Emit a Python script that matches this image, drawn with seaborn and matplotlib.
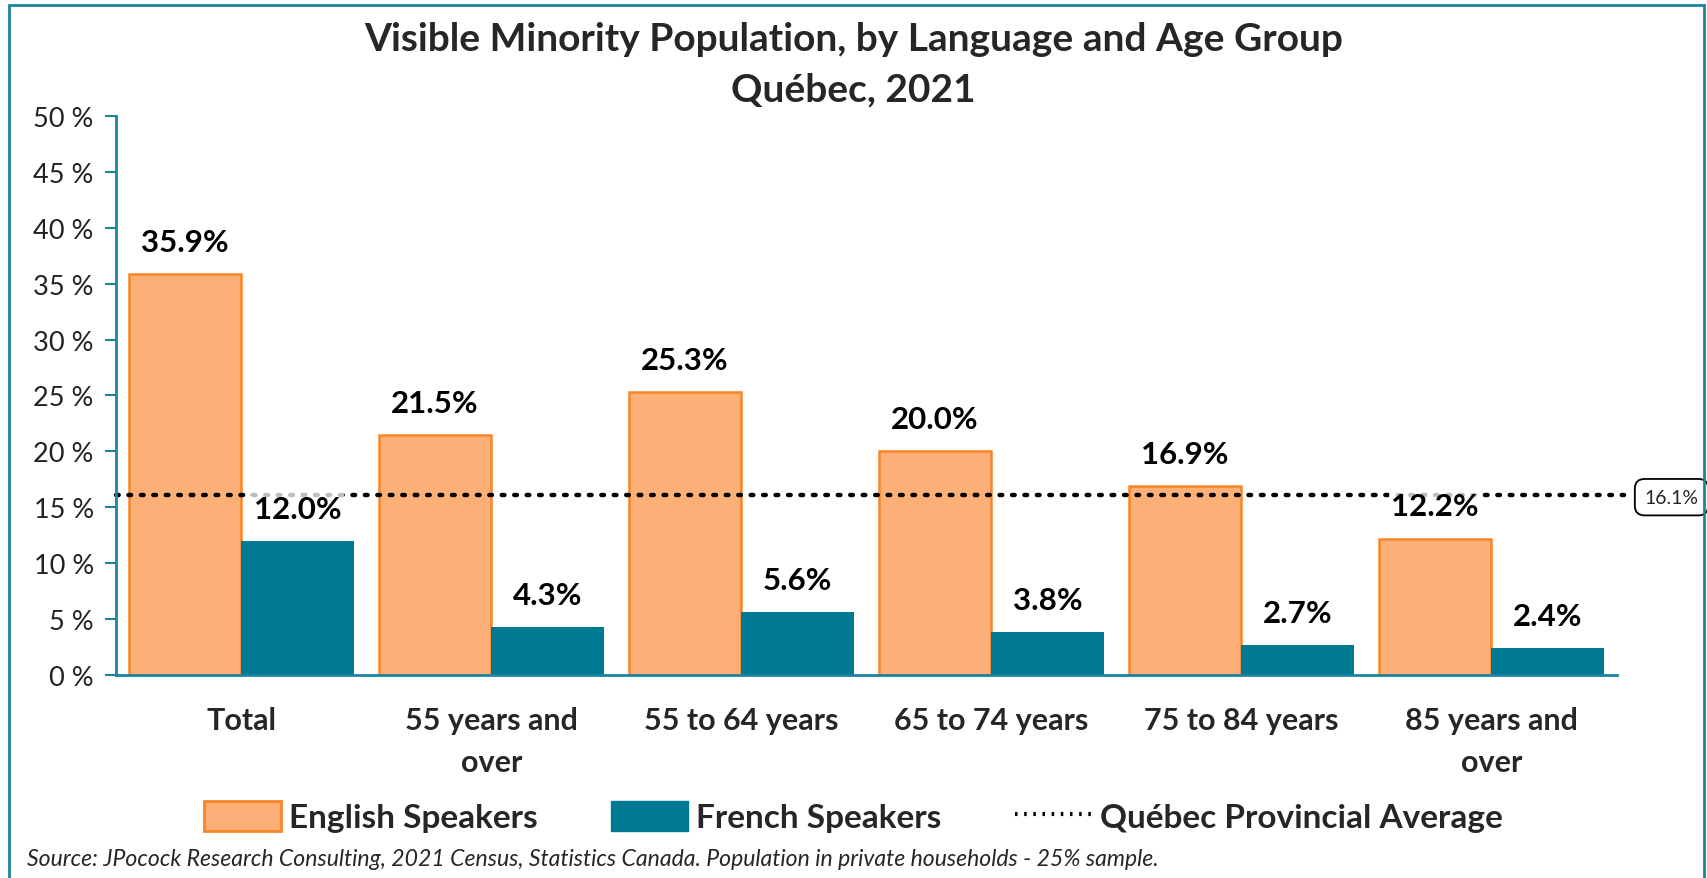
import pandas as pd
import matplotlib.pyplot as plt
import seaborn as sns
from matplotlib.patches import Patch, Rectangle
from matplotlib.lines import Line2D

# data
groups = ["Total", "55 years and\nover", "55 to 64 years", "65 to 74 years",
          "75 to 84 years", "85 years and\nover"]
english = [35.9, 21.5, 25.3, 20.0, 16.9, 12.2]
french = [12.0, 4.3, 5.6, 3.8, 2.7, 2.4]
provincial_avg = 16.1
yticks = [0, 5, 10, 15, 20, 25, 30, 35, 40, 45, 50]

orange = "#FDAF78"
orange_edge = "#FA8428"
teal = "#007A93"
axis_col = "#1C84A0"

df = pd.DataFrame({
    "group": groups * 2,
    "lang": ["English Speakers"] * len(groups) + ["French Speakers"] * len(groups),
    "value": english + french,
})

sns.set_theme(style="white")
plt.rcParams["font.family"] = ["Lato", "DejaVu Sans"]

fig = plt.figure(figsize=(17.07, 8.79), dpi=100)
ax = fig.add_axes([0.068, 0.231, 0.879, 0.636])

sns.barplot(data=df, x="group", y="value", hue="lang",
            palette=[orange, teal], width=0.9, gap=0,
            saturation=1, legend=False, ax=ax)

for bar in ax.containers[0]:
    bar.set_edgecolor(orange_edge)
    bar.set_linewidth(1.8)
for bar in ax.containers[1]:
    bar.set_edgecolor(teal)
    bar.set_linewidth(0)

# provincial average dotted line + value box
ax.plot([-0.5, 5.53], [provincial_avg, provincial_avg], color="black",
        linestyle=(0, (0.6, 2.2)), linewidth=3.2, dash_capstyle="round",
        clip_on=False, zorder=1)
ax.text(5.72, provincial_avg - 0.2, f"{provincial_avg:.1f}%", fontsize=14,
        ha="center", va="center", clip_on=False,
        bbox=dict(boxstyle="round,pad=0.5", fc="white", ec="black", lw=1.3))

for cont in ax.containers:
    labels = ax.bar_label(cont, fmt="%.1f%%", padding=13, fontsize=22.5,
                          fontweight="bold", color="black")
    for t in labels:
        t.set_bbox(dict(facecolor="white", edgecolor="none", alpha=0.75, pad=2))
        t.set_zorder(3)

ax.set_xlim(-0.5, 5.5)
ax.set_ylim(0, 50)
ax.set_yticks(yticks)
ax.set_yticklabels([f"{v} %" for v in yticks], fontsize=19.5, color="#222222")
ax.tick_params(axis="y", direction="out", length=8, width=1.5,
               color=axis_col, left=True, pad=8)
ax.tick_params(axis="x", length=0, pad=22)
for lbl in ax.get_xticklabels():
    lbl.set_fontsize(22)
    lbl.set_fontweight("bold")
    lbl.set_linespacing(1.65)
ax.set_xlabel("")
ax.set_ylabel("")
sns.despine(ax=ax)
ax.spines["left"].set_color(axis_col)
ax.spines["bottom"].set_color(axis_col)
ax.spines["left"].set_linewidth(2)
ax.spines["bottom"].set_linewidth(2)

fig.text(0.5, 0.955, "Visible Minority Population, by Language and Age Group",
         ha="center", va="center", fontsize=28, fontweight="bold")
fig.text(0.5, 0.898, "Québec, 2021", ha="center", va="center",
         fontsize=28, fontweight="bold")

handles = [
    Patch(facecolor=orange, edgecolor=orange_edge, linewidth=2, label="English Speakers"),
    Patch(facecolor=teal, edgecolor=teal, label="French Speakers"),
    Line2D([0], [0], color="black", linestyle=(0, (0.6, 1.6)), linewidth=3,
           label="Québec Provincial Average"),
]
fig.legend(handles=handles, loc="center", bbox_to_anchor=(0.5, 0.07), ncol=3,
           frameon=False, prop={"size": 24, "weight": "bold"},
           handlelength=2.3, handleheight=1.0, handletextpad=0.25,
           columnspacing=2.2)

fig.text(0.016, 0.022, "Source: JPocock Research Consulting, 2021 Census, Statistics Canada. "
         "Population in private households - 25% sample.",
         ha="left", va="center", fontsize=16.6, style="italic")

# outer frame
fig.add_artist(Rectangle((0.005, -0.02), 0.993, 1.013, transform=fig.transFigure,
                         fill=False, edgecolor=axis_col, linewidth=2))

fig.savefig("out.png", dpi=100)
